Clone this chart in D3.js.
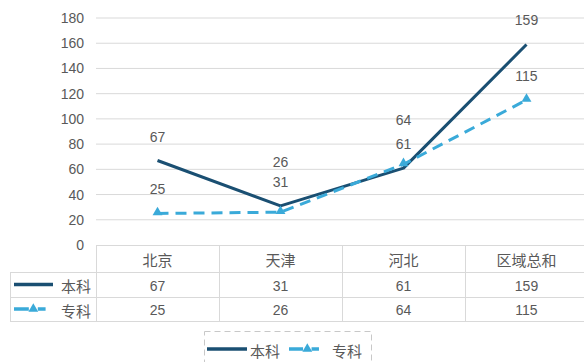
<!DOCTYPE html>
<html>
<head>
<meta charset="utf-8">
<script src="https://cdn.jsdelivr.net/npm/d3@7"></script>
<style>
  html, body { margin: 0; padding: 0; background: #ffffff; }
  svg { display: block; }
</style>
</head>
<body>
<svg id="chart" width="584" height="362"></svg>
<script>
// Chart data
const categories = ["北京", "天津", "河北", "区域总和"];
const seriesNames = ["本科", "专科"];
const benke = [67, 31, 61, 159];
const zhuanke = [25, 26, 64, 115];
const yTicks = [0, 20, 40, 60, 80, 100, 120, 140, 160, 180];

const colors = { "本科": "#1a4f72", "专科": "#3aaad9" };
const textColor = "#595959";
const gridColor = "#d9d9d9";
const numFont = "'Liberation Sans', Arial, sans-serif";
const cjkFont = "'Noto Sans CJK SC', sans-serif";

const svg = d3.select("#chart");

const plotLeft = 96, plotRight = 588, plotTop = 18, plotBottom = 245;
const x = d3.scaleBand().domain(categories).range([plotLeft, plotRight]);
const y = d3.scaleLinear().domain([0, 180]).range([plotBottom, plotTop]);
const cx = c => x(c) + x.bandwidth() / 2;

// Horizontal gridlines
svg.append("g").selectAll("line").data(yTicks.filter(t => t > 0)).join("line")
  .attr("x1", plotLeft).attr("x2", 584)
  .attr("y1", d => y(d)).attr("y2", d => y(d))
  .attr("stroke", gridColor).attr("stroke-width", 1);

// Y axis labels
const yAxis = d3.axisLeft(y).tickValues(yTicks).tickSize(0).tickPadding(12);
const yG = svg.append("g").attr("transform", `translate(${plotLeft},0)`).call(yAxis);
yG.select(".domain").remove();
yG.selectAll("text")
  .attr("fill", textColor)
  .style("font-family", numFont)
  .style("font-size", "14px");

// Data table below the plot
const rowH = [27, 25, 24];
const rowY = [plotBottom, plotBottom + rowH[0], plotBottom + rowH[0] + rowH[1], plotBottom + rowH[0] + rowH[1] + rowH[2]];
const tableLeft = 10;
const table = svg.append("g");
const bounds = categories.map(c => x(c)).concat([plotRight]);

table.append("line").attr("x1", plotLeft).attr("x2", plotRight)
  .attr("y1", rowY[0] + 0.5).attr("y2", rowY[0] + 0.5).attr("stroke", gridColor);
[rowY[1], rowY[2], rowY[3]].forEach(yy => {
  table.append("line").attr("x1", tableLeft).attr("x2", plotRight)
    .attr("y1", yy + 0.5).attr("y2", yy + 0.5).attr("stroke", gridColor);
});
bounds.forEach(bx => {
  table.append("line").attr("x1", bx + 0.5).attr("x2", bx + 0.5)
    .attr("y1", rowY[0]).attr("y2", rowY[3]).attr("stroke", gridColor);
});
table.append("line").attr("x1", tableLeft + 0.5).attr("x2", tableLeft + 0.5)
  .attr("y1", rowY[1]).attr("y2", rowY[3]).attr("stroke", gridColor);

// Category header row
table.selectAll("text.cat").data(categories).join("text")
  .attr("class", "cat")
  .attr("x", d => cx(d)).attr("y", (rowY[0] + rowY[1]) / 2 + 1)
  .attr("text-anchor", "middle").attr("dominant-baseline", "central")
  .attr("fill", textColor)
  .style("font-family", cjkFont).style("font-size", "15px")
  .text(d => d);

// Value rows
const seriesData = [benke, zhuanke];
seriesData.forEach((vals, i) => {
  const midY = (rowY[i + 1] + rowY[i + 2]) / 2;
  table.selectAll(`text.v${i}`).data(vals).join("text")
    .attr("class", `v${i}`)
    .attr("x", (d, j) => cx(categories[j])).attr("y", midY + 1)
    .attr("text-anchor", "middle").attr("dominant-baseline", "central")
    .attr("fill", textColor)
    .style("font-family", numFont).style("font-size", "14px")
    .text(d => d);
});

// Legend key sample (line, optionally dashed with triangle)
const tri = d3.symbol().type(d3.symbolTriangle).size(42);
function keySample(g, name, x0, x1, yy) {
  if (name === "本科") {
    g.append("line").attr("x1", x0).attr("x2", x1).attr("y1", yy).attr("y2", yy)
      .attr("stroke", colors[name]).attr("stroke-width", 3.5);
  } else {
    const w = x1 - x0;
    const a = w * 0.38, b = w * 0.23, c = w * 0.2;
    g.append("line").attr("x1", x0).attr("x2", x1).attr("y1", yy).attr("y2", yy)
      .attr("stroke", colors[name]).attr("stroke-width", 3.5)
      .attr("stroke-dasharray", `${a},${b},${c},${w}`);
    g.append("path").attr("d", tri)
      .attr("transform", `translate(${x0 + a + b / 2},${yy})`)
      .attr("fill", colors[name]);
  }
}

// Legend keys inside the table's first column
seriesNames.forEach((name, i) => {
  const midY = (rowY[i + 1] + rowY[i + 2]) / 2;
  keySample(table, name, 14, 53, midY);
  table.append("text")
    .attr("x", 91).attr("y", midY + 1)
    .attr("text-anchor", "end").attr("dominant-baseline", "central")
    .attr("fill", textColor)
    .style("font-family", cjkFont).style("font-size", "15px")
    .text(name);
});

// Series lines
const line = d3.line().x((d, j) => cx(categories[j])).y(d => y(d));
svg.append("path").datum(benke)
  .attr("d", line).attr("fill", "none")
  .attr("stroke", colors["本科"]).attr("stroke-width", 3)
  .attr("stroke-linejoin", "round");
svg.append("path").datum(zhuanke)
  .attr("d", line).attr("fill", "none")
  .attr("stroke", colors["专科"]).attr("stroke-width", 3)
  .attr("stroke-dasharray", "11,7");
svg.append("g").selectAll("path").data(zhuanke).join("path")
  .attr("d", tri)
  .attr("transform", (d, j) => `translate(${cx(categories[j])},${y(d) - 1})`)
  .attr("fill", colors["专科"]);

// Data labels: placed above each point, the second series lifted if labels collide
const labelGap = 24, minSep = 20;
const labels = svg.append("g");
categories.forEach((c, j) => {
  const yb = y(benke[j]) - labelGap;
  let yz = y(zhuanke[j]) - labelGap;
  if (Math.abs(yz - yb) < minSep) yz = Math.min(yb, yz) - minSep - (yb > yz ? 0 : 0);
  if (Math.abs(yz - yb) < minSep) yz = yb - minSep;
  [[benke[j], yb], [zhuanke[j], yz]].forEach(([v, ly]) => {
    labels.append("text")
      .attr("x", cx(c)).attr("y", ly)
      .attr("text-anchor", "middle").attr("dominant-baseline", "central")
      .attr("fill", textColor)
      .style("font-family", numFont).style("font-size", "14px")
      .text(v);
  });
});

// Bottom legend with dashed frame
const lg = svg.append("g");
lg.append("rect").attr("x", 204.5).attr("y", 331.5).attr("width", 167).attr("height", 40)
  .attr("fill", "none").attr("stroke", "#c8c8c8").attr("stroke-dasharray", "6,4");
keySample(lg, "本科", 207, 247, 349);
lg.append("text").attr("x", 250).attr("y", 350)
  .attr("dominant-baseline", "central").attr("fill", textColor)
  .style("font-family", cjkFont).style("font-size", "15px").text("本科");
keySample(lg, "专科", 289, 326, 349);
lg.append("text").attr("x", 332).attr("y", 350)
  .attr("dominant-baseline", "central").attr("fill", textColor)
  .style("font-family", cjkFont).style("font-size", "15px").text("专科");
</script>
</body>
</html>
